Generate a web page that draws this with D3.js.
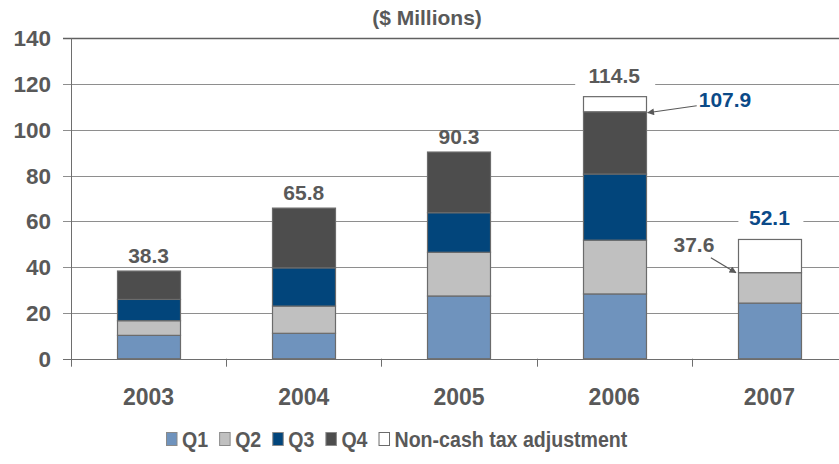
<!DOCTYPE html>
<html>
<head>
<meta charset="utf-8">
<script src="https://cdn.jsdelivr.net/npm/d3@7"></script>
<style>
  body { margin: 0; background: #fff; }
  text { font-family: "Liberation Sans", Arial, sans-serif; font-weight: bold; fill: #595959; }
</style>
</head>
<body>
<script>
// data ($ millions)
var years = ["2003", "2004", "2005", "2006", "2007"];
var q1 = [10.2, 11.1, 27.4, 28.3, 24.3];
var q2 = [6.4, 11.9, 19.1, 23.5, 13.3];
var q3 = [9.3, 16.7, 17.3, 28.9, 0];
var q4 = [12.4, 26.1, 26.5, 27.2, 0];
var adj = [0, 0, 0, 6.6, 14.5];
var totalLabels = ["38.3", "65.8", "90.3", "114.5", "52.1"];
var yTicks = [0, 20, 40, 60, 80, 100, 120, 140];
var seriesNames = ["Q1", "Q2", "Q3", "Q4", "Non-cash tax adjustment"];

var keys = ["q1", "q2", "q3", "q4", "adj"];
var colors = ["#6f93bd", "#c0c0c0", "#02457b", "#4d4d4d", "#ffffff"];
var blue = "#0b4a88";

var width = 839, height = 464;
var plotLeft = 71, plotRight = 847, plotTop = 38.3, plotBottom = 358.7;

var rows = years.map(function(y, i) {
    return {year: y, q1: q1[i], q2: q2[i], q3: q3[i], q4: q4[i], adj: adj[i]};
});

var x = d3.scaleBand()
    .domain(years)
    .range([plotLeft, plotRight])
    .paddingInner(0.594)
    .paddingOuter(0.297);

var y = d3.scaleLinear()
    .domain([0, 140])
    .range([plotBottom, plotTop]);

var color = d3.scaleOrdinal().domain(keys).range(colors);

var svg = d3.select("body").append("svg")
    .attr("width", width)
    .attr("height", height);

var defs = svg.append("defs");
defs.append("marker")
    .attr("id", "arrow")
    .attr("viewBox", "0 0 10 10")
    .attr("refX", 9).attr("refY", 5)
    .attr("markerWidth", 9).attr("markerHeight", 7)
    .attr("markerUnits", "userSpaceOnUse")
    .attr("orient", "auto")
    .append("path")
    .attr("d", "M0,0L10,5L0,10z")
    .attr("fill", "#595959");

// title
svg.append("text")
    .attr("x", 427)
    .attr("y", 25)
    .attr("text-anchor", "middle")
    .attr("font-size", 21)
    .text("($ Millions)");

// gridlines
svg.append("g").selectAll("line")
    .data(yTicks)
    .enter().append("line")
    .attr("x1", plotLeft - 8)
    .attr("x2", plotRight)
    .attr("y1", function(d) { return Math.round(y(d)) + 0.5; })
    .attr("y2", function(d) { return Math.round(y(d)) + 0.5; })
    .attr("stroke", function(d) { return d === 140 ? "#606060" : (d === 0 ? "#6e6e6e" : "#8e8e8e"); })
    .attr("stroke-width", function(d) { return d === 140 ? 1.5 : 1; });

// y tick labels
svg.append("g").selectAll("text")
    .data(yTicks)
    .enter().append("text")
    .attr("x", 51)
    .attr("y", function(d) { return y(d); })
    .attr("dy", "0.36em")
    .attr("text-anchor", "end")
    .attr("font-size", 22.5)
    .text(function(d) { return d; });

// left axis
svg.append("line")
    .attr("x1", plotLeft + 0.5).attr("x2", plotLeft + 0.5)
    .attr("y1", plotTop).attr("y2", plotBottom + 8)
    .attr("stroke", "#6e6e6e");

// category ticks between bands
var step = x.step();
svg.append("g").selectAll("line")
    .data(d3.range(1, years.length + 1))
    .enter().append("line")
    .attr("x1", function(i) { return Math.round(plotLeft + i * step) + 0.5; })
    .attr("x2", function(i) { return Math.round(plotLeft + i * step) + 0.5; })
    .attr("y1", plotBottom)
    .attr("y2", plotBottom + 8)
    .attr("stroke", "#6e6e6e");

// stacked bars
var stack = d3.stack().keys(keys);
var layers = stack(rows);

svg.append("g").selectAll("g")
    .data(layers)
    .enter().append("g")
    .attr("fill", function(d) { return color(d.key); })
    .selectAll("rect")
    .data(function(d) { return d.filter(function(s) { return s[1] - s[0] > 0; }); })
    .enter().append("rect")
    .attr("x", function(d) { return Math.round(x(d.data.year)) + 0.5; })
    .attr("y", function(d) { return y(d[1]); })
    .attr("width", Math.round(x.bandwidth()))
    .attr("height", function(d) { return y(d[0]) - y(d[1]); })
    .attr("stroke", "#6b6b6b")
    .attr("stroke-width", 1.2);

// year labels
svg.append("g").selectAll("text")
    .data(years)
    .enter().append("text")
    .attr("x", function(d) { return x(d) + x.bandwidth() / 2; })
    .attr("y", 405)
    .attr("text-anchor", "middle")
    .attr("font-size", 23)
    .text(function(d) { return d; });

// total labels (boxed ones get a white background)
var totals = rows.map(function(r, i) {
    return {year: r.year, value: r.q1 + r.q2 + r.q3 + r.q4 + r.adj, label: totalLabels[i], boxed: r.adj > 0};
});

var tl = svg.append("g").selectAll("g")
    .data(totals)
    .enter().append("g")
    .attr("transform", function(d) {
        var off = d.boxed ? 14 : 8;
        return "translate(" + (x(d.year) + x.bandwidth() / 2) + "," + (y(d.value) - off) + ")";
    });

tl.filter(function(d) { return d.boxed; })
    .append("rect")
    .attr("x", function(d) { return d.label.length > 4 ? -39 : -31; })
    .attr("y", -20)
    .attr("width", function(d) { return d.label.length > 4 ? 80 : 65; })
    .attr("height", 26)
    .attr("fill", "#fff");

tl.append("text")
    .attr("text-anchor", "middle")
    .attr("font-size", 21)
    .style("fill", function(d) { return d.year === "2007" ? blue : "#595959"; })
    .text(function(d) { return d.label; });

// callout for 2006 before adjustment
var pre2006 = q1[3] + q2[3] + q3[3] + q4[3];
var ax = x("2006") + x.bandwidth() + 2, ay = y(pre2006);
svg.append("line")
    .attr("x1", ax + 49).attr("y1", ay - 6)
    .attr("x2", ax).attr("y2", ay + 1)
    .attr("stroke", "#595959")
    .attr("stroke-width", 1.2)
    .attr("marker-end", "url(#arrow)");
svg.append("text")
    .attr("x", ax + 51)
    .attr("y", ay - 4.5)
    .attr("font-size", 21)
    .style("fill", blue)
    .text(d3.format(".1f")(pre2006));

// callout for 2007 before adjustment
var pre2007 = q1[4] + q2[4] + q3[4] + q4[4];
var bx = x("2007") - 2, by = y(pre2007);
svg.append("line")
    .attr("x1", bx - 25).attr("y1", by - 15)
    .attr("x2", bx).attr("y2", by)
    .attr("stroke", "#595959")
    .attr("stroke-width", 1.2)
    .attr("marker-end", "url(#arrow)");
svg.append("text")
    .attr("x", bx - 42)
    .attr("y", by - 21)
    .attr("text-anchor", "middle")
    .attr("font-size", 21)
    .text(d3.format(".1f")(pre2007));

// legend, laid out left to right (the original font is a bit condensed)
var legend = svg.append("g");
var lx = 166;
seriesNames.forEach(function(name, i) {
    legend.append("rect")
        .attr("x", lx + 0.5).attr("y", 432.5)
        .attr("width", 10.5).attr("height", 13)
        .attr("fill", colors[i])
        .attr("stroke", i === 4 ? "#6b6b6b" : "#8a8a8a")
        .attr("stroke-width", 1);
    var t = legend.append("text")
        .attr("x", lx + 16)
        .attr("y", 447)
        .attr("font-size", 22)
        .text(name);
    var w = t.node().getComputedTextLength() * 0.89;
    t.attr("textLength", w).attr("lengthAdjust", "spacingAndGlyphs");
    lx = lx + 16 + w + 11;
});
</script>
</body>
</html>
